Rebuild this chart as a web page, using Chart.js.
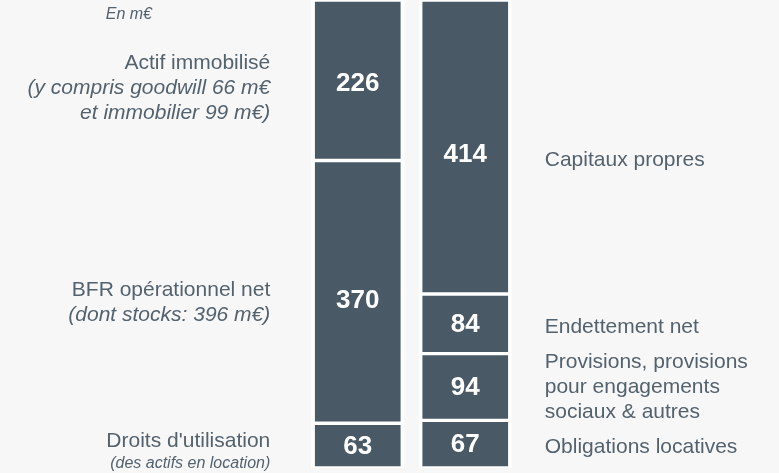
<!DOCTYPE html>
<html>
<head>
<meta charset="utf-8">
<script src="https://cdn.jsdelivr.net/npm/chart.js@4"></script>
<style>
  html, body { margin: 0; padding: 0; background: #f7f7f7; }
  #wrap { width: 779px; height: 473px; }
</style>
</head>
<body>
<div id="wrap"><canvas id="bilan"></canvas></div>
<script>
// two columns: emplois (left) / ressources (right), values in m€
var colonnes = ['Actif', 'Passif'];
var seg1 = [63, 67];     // droits d'utilisation / obligations locatives
var seg2 = [370, 94];    // BFR opérationnel net / provisions
var seg3 = [null, 84];   // endettement net
var seg4 = [226, 414];   // actif immobilisé / capitaux propres

var libellesGauche = [
  { ds: 3, dy: 5, lines: [['Actif immobilisé', ''], ['(y compris goodwill 66 m€', 'i'], ['et immobilier 99 m€)', 'i']] },
  { ds: 1, dy: 3, lines: [['BFR opérationnel net', ''], ['(dont stocks: 396 m€)', 'i']] },
  { ds: 0, dy: 8, lines: [["Droits d'utilisation", ''], ['(des actifs en location)', 's']] }
];
var libellesDroite = [
  { ds: 3, dy: 6, lines: [['Capitaux propres', '']] },
  { ds: 2, dy: 3, lines: [['Endettement net', '']] },
  { ds: 1, dy: 0, lines: [['Provisions, provisions', ''], ['pour engagements', ''], ['sociaux & autres', '']] },
  { ds: 0, dy: 3, lines: [['Obligations locatives', '']] }
];

var barColor = '#4a5966';
var textColor = '#54626e';
var nudge = { '1-0': 8, '3-1': 7, '3-0': 3 }; // big blocks: labels sit a bit low

function segCenter(chart, ds, i) {
  var bar = chart.getDatasetMeta(ds).data[i];
  return (bar.y + bar.base) / 2 + (nudge[ds + '-' + i] || 0);
}

var panneau = {
  id: 'panneau',
  beforeDatasetsDraw: function(chart) {
    var ctx = chart.ctx, area = chart.chartArea;
    var meta = chart.getDatasetMeta(0);
    ctx.save();
    meta.data.forEach(function(bar) {
      var w = bar.width + 4;
      ctx.fillStyle = '#ffffff';
      ctx.fillRect(bar.x - w / 2, area.top, w, area.bottom - area.top);
      ctx.fillStyle = '#c8c8c8';
      ctx.fillRect(bar.x - w / 2 + 2, area.top, w - 4, 1);
    });
    ctx.restore();
  }
};

var etiquettes = {
  id: 'etiquettes',
  afterDatasetsDraw: function(chart) {
    var ctx = chart.ctx;
    ctx.save();
    // values inside the blocks
    chart.data.datasets.forEach(function(d, ds) {
      chart.getDatasetMeta(ds).data.forEach(function(bar, i) {
        if (d.data[i] == null) return;
        ctx.fillStyle = '#ffffff';
        ctx.font = 'bold 26px "Liberation Sans", Arial, sans-serif';
        ctx.textAlign = 'center';
        ctx.textBaseline = 'middle';
        ctx.fillText(d.data[i], bar.x, segCenter(chart, ds, i) + 1);
      });
    });

    function bloc(items, col, x, align) {
      items.forEach(function(it) {
        var cy = segCenter(chart, it.ds, col) + it.dy;
        var n = it.lines.length;
        var lh = 25;
        var y0 = cy - (n - 1) * lh / 2;
        it.lines.forEach(function(l, k) {
          var style = l[1];
          var y = y0 + k * lh;
          if (style === 's') { ctx.font = 'italic 16px "Liberation Sans", Arial, sans-serif'; y -= 3; }
          else if (style === 'i') ctx.font = 'italic 21px "Liberation Sans", Arial, sans-serif';
          else ctx.font = '21px "Liberation Sans", Arial, sans-serif';
          ctx.fillStyle = textColor;
          ctx.textAlign = align;
          ctx.textBaseline = 'middle';
          ctx.fillText(l[0], x, y);
        });
      });
    }
    var left = chart.getDatasetMeta(0).data[0];
    var right = chart.getDatasetMeta(0).data[1];
    bloc(libellesGauche, 0, left.x - left.width / 2 - 43, 'right');
    bloc(libellesDroite, 1, right.x + right.width / 2 + 35, 'left');

    ctx.font = 'italic 16px "Liberation Sans", Arial, sans-serif';
    ctx.fillStyle = textColor;
    ctx.textAlign = 'right';
    ctx.textBaseline = 'middle';
    ctx.fillText('En m€', 152, 15);
    ctx.restore();
  }
};

function serie(data) {
  return {
    data: data,
    backgroundColor: barColor,
    borderColor: '#ffffff',
    borderWidth: 2,
    borderSkipped: false,
    barThickness: 89
  };
}

new Chart(document.getElementById('bilan'), {
  type: 'bar',
  data: {
    labels: colonnes,
    datasets: [serie(seg1), serie(seg2), serie(seg3), serie(seg4)]
  },
  options: {
    responsive: true,
    maintainAspectRatio: false,
    animation: false,
    layout: { padding: { top: 0, bottom: 5, left: 304, right: 260 } },
    plugins: {
      legend: { display: false },
      tooltip: { enabled: false }
    },
    scales: {
      x: {
        stacked: true,
        display: false,
        grid: { display: false }
      },
      y: {
        stacked: true,
        display: false,
        min: 0,
        max: 659,
        grid: { display: false }
      }
    }
  },
  plugins: [panneau, etiquettes]
});
</script>
</body>
</html>
